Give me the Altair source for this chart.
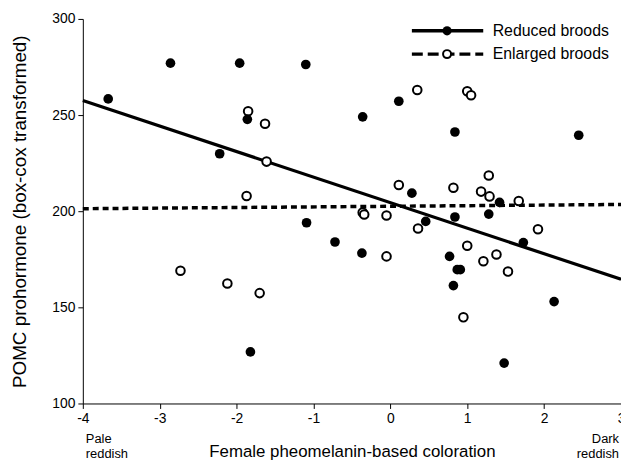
import altair as alt
import pandas as pd

# Reduced broods (filled circles)
red_x = [-3.67, -2.86, -1.96, -1.10, -1.86, -2.22, 0.11, -0.36, 0.84, 2.45,
         0.28, 0.46, 0.84, 0.77, 0.87, 0.91, 0.82, 1.28, 1.42, 1.73,
         2.13, 1.48, -0.37, -0.72, -1.09, -1.82]
red_y = [258.4, 277.0, 277.0, 276.3, 247.8, 229.9, 257.2, 249.1, 241.2, 239.5,
         209.4, 194.7, 197.0, 176.5, 169.6, 169.6, 161.3, 198.5, 204.6, 183.7,
         153.0, 121.0, 178.2, 184.0, 194.0, 126.8]

# Enlarged broods (open circles)
enl_x = [-1.85, -1.63, -1.61, -1.87, -2.73, -2.12, -1.70, 0.35, 1.00, 1.05,
         0.11, 0.82, 1.18, 1.29, 1.28, 1.67, -0.36, -0.34, -0.05, 0.36,
         1.00, 1.38, 1.21, 1.53, 1.92, -0.05, 0.95]
enl_y = [252.0, 245.5, 225.8, 207.9, 169.0, 162.4, 157.4, 263.0, 262.4, 260.3,
         213.6, 212.2, 210.2, 207.7, 218.6, 205.3, 199.3, 198.3, 197.8, 191.0,
         182.0, 177.5, 174.0, 168.6, 190.6, 176.5, 144.8]

# Fitted lines (end points)
fit_x = [-4, 3]
fit_red_y = [257.6, 164.6]
fit_enl_y = [201.3, 203.5]

x_ticks = [-4, -3, -2, -1, 0, 1, 2, 3]
y_ticks = [100, 150, 200, 250, 300]

FONT = "Liberation Sans"

red = pd.DataFrame({"x": red_x, "y": red_y})
enl = pd.DataFrame({"x": enl_x, "y": enl_y})
fit_red = pd.DataFrame({"x": fit_x, "y": fit_red_y})
fit_enl = pd.DataFrame({"x": fit_x, "y": fit_enl_y})

xs = alt.Scale(domain=[-4, 3], nice=False, zero=False)
ys = alt.Scale(domain=[100, 300], nice=False, zero=False)

xenc = alt.X("x:Q", scale=xs, axis=alt.Axis(
    values=x_ticks, title="Female pheomelanin-based coloration",
    labelExpr="'' + datum.value", labelFlush=False, titleFontSize=17,
    titlePadding=19, labelPadding=3))
yenc = alt.Y("y:Q", scale=ys, axis=alt.Axis(
    values=y_ticks, title="POMC prohormone (box-cox transformed)",
    labelExpr="'' + datum.value", labelFlush=False, titleFontSize=19,
    titlePadding=22, labelPadding=3))

line_enl = alt.Chart(fit_enl).mark_line(
    color="black", strokeWidth=3.5, strokeDash=[6, 4]).encode(x=xenc, y=yenc)
line_red = alt.Chart(fit_red).mark_line(
    color="black", strokeWidth=3.2).encode(x=xenc, y=yenc)
pts_red = alt.Chart(red).mark_point(
    shape="circle", filled=True, color="black", size=95, opacity=1).encode(x="x:Q", y="y:Q")
pts_enl = alt.Chart(enl).mark_point(
    shape="circle", filled=False, fill="white", stroke="black", strokeWidth=2,
    size=75, opacity=1).encode(x="x:Q", y="y:Q")

# custom legend
leg_df = pd.DataFrame({"k": [0]})
base = alt.Chart(leg_df)
leg_line1 = base.mark_rule(color="black", strokeWidth=3.5).encode(
    x=alt.value(332), x2=alt.value(404), y=alt.value(12))
leg_line2 = base.mark_rule(color="black", strokeWidth=3.5, strokeDash=[11, 5]).encode(
    x=alt.value(332), x2=alt.value(404), y=alt.value(35.5))
leg_pt1 = base.mark_point(shape="circle", filled=True, color="black", size=85, opacity=1).encode(
    x=alt.value(367.5), y=alt.value(12))
leg_pt2 = base.mark_point(shape="circle", filled=False, fill="white", stroke="black",
                          strokeWidth=2, size=65, opacity=1).encode(
    x=alt.value(367.5), y=alt.value(35.5))
leg_t1 = base.mark_text(text="Reduced broods", align="left", baseline="middle",
                        font=FONT, fontSize=16, color="black").encode(
    x=alt.value(413.5), y=alt.value(12))
leg_t2 = base.mark_text(text="Enlarged broods", align="left", baseline="middle",
                        font=FONT, fontSize=16, color="black").encode(
    x=alt.value(413.5), y=alt.value(35.5))

pale = base.mark_text(text=["Pale", "reddish"], align="left", baseline="middle",
                      font=FONT, fontSize=13, lineHeight=15, color="black").encode(
    x=alt.value(3), y=alt.value(424))
dark = base.mark_text(text=["Dark", "reddish"], align="right", baseline="middle",
                      font=FONT, fontSize=13, lineHeight=15, color="black").encode(
    x=alt.value(541), y=alt.value(424))

chart = alt.layer(
    line_enl, line_red, pts_enl, pts_red,
    leg_line1, leg_line2, leg_pt1, leg_pt2, leg_t1, leg_t2, pale, dark
).properties(
    width=543, height=388,
    autosize=alt.AutoSizeParams(type="none"),
    padding={"left": 75.5, "top": 9, "right": 0, "bottom": 55},
    background="white",
).configure_view(stroke=None).configure_axis(
    grid=False, domainColor="black", tickColor="black", domainWidth=1, tickWidth=1,
    tickSize=5, labelFont=FONT, labelFontSize=14, labelColor="black",
    titleFont=FONT, titleFontWeight="normal", titleColor="black",
)

chart.save("out.html", embed_options={"renderer": "svg", "actions": False})
